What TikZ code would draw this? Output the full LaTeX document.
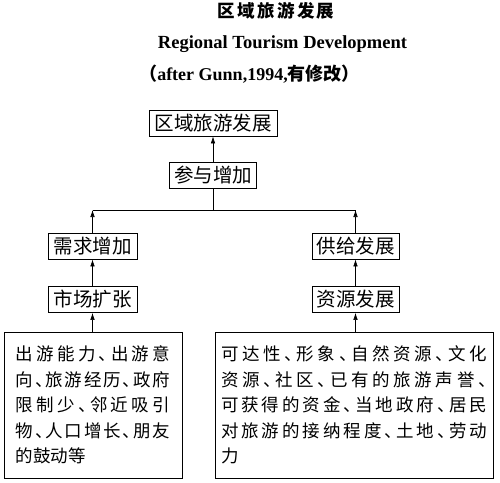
\documentclass[tikz,border=0pt]{standalone}
\usepackage{fontspec}
\setmainfont{Liberation Serif}
\newfontfamily\cjk[RawFeature=+halt]{Noto Sans CJK SC}
\usetikzlibrary{arrows.meta}

% one line of CJK text spread to a given width
\makeatletter
\newcommand\jline[2]{\leavevmode\hbox to #1{\hskip 0pt plus -1fil\@tfor\jc:=#2\do{\hfil\jc}}}
\makeatother

\tikzset{
  lbox/.style={draw, line width=0.8pt, inner sep=0pt, minimum height=26pt,
    font=\fontsize{19.5}{22}\selectfont\cjk},
  factbox/.style={draw, line width=0.9pt, inner sep=0pt, minimum height=146pt,
    align=left, font=\fontsize{17.5}{25.5}\selectfont\cjk},
  up/.style={-{Latex[length=7pt,width=4.5pt]}, line width=0.6pt}
}

\begin{document}
\begin{tikzpicture}[x=1pt,y=-1pt]
  \useasboundingbox (0,0) rectangle (500,482);
  % titles
  \node[font=\fontsize{17.5}{18}\selectfont\cjk\bfseries] (ttl) at (276,11) {\jline{117pt}{区域旅游发展}};
  \node[font=\fontsize{18.5}{20}\selectfont\bfseries] (ttlen) at (282.5,44) {Regional Tourism Development};
  \node[font=\fontsize{18}{20}\selectfont\bfseries] (src) at (249.5,74) {{\cjk （}after Gunn,1994,{\cjk 有修改）}};
  % boxes
  \node[lbox, minimum width=128pt] (rtd) at (213,123) {区域旅游发展};
  \node[lbox, minimum width=87pt] (ptcp) at (213,175) {参与增加};
  \node[lbox, minimum width=89pt] (dmd) at (92.5,246) {需求增加};
  \node[lbox, minimum width=89pt] (mkt) at (92.5,299.5) {市场扩张};
  \node[lbox, minimum width=87pt] (spl) at (355.5,246) {供给发展};
  \node[lbox, minimum width=87pt] (rsc) at (355.5,299.5) {资源发展};
  \node[factbox, minimum width=178pt, text width=154pt] (dfac) at (93,405) {%
    \jline{154pt}{出游能力、出游意}\\
    \jline{154pt}{向、旅游经历、政府}\\
    \jline{154pt}{限制少、邻近吸引}\\
    \jline{154pt}{物、人口增长、朋友}\\
    的鼓动等};
  \node[factbox, minimum width=278pt, text width=266pt] (sfac) at (354,405) {%
    \jline{266pt}{可达性、形象、自然资源、文化}\\
    \jline{266pt}{资源、社区、已有的旅游声誉、}\\
    \jline{266pt}{可获得的资金、当地政府、居民}\\
    \jline{266pt}{对旅游的接纳程度、土地、劳动}\\
    力};
  % connectors
  \coordinate (jm) at (213,210);
  \coordinate (jl) at (92.5,210);
  \coordinate (jr) at (355.5,210);
  \draw[up] (ptcp) -- (rtd);
  \draw[line width=0.6pt] (ptcp) -- (jm);
  \draw[line width=0.6pt] (jl) -- (jr);
  \draw[up] (dmd) -- (jl);
  \draw[up] (spl) -- (jr);
  \draw[up] (mkt) -- (dmd);
  \draw[up] (rsc) -- (spl);
  \draw[up] (dfac.north -| mkt) -- (mkt);
  \draw[up] (sfac.north -| rsc) -- (rsc);
\end{tikzpicture}
\end{document}
